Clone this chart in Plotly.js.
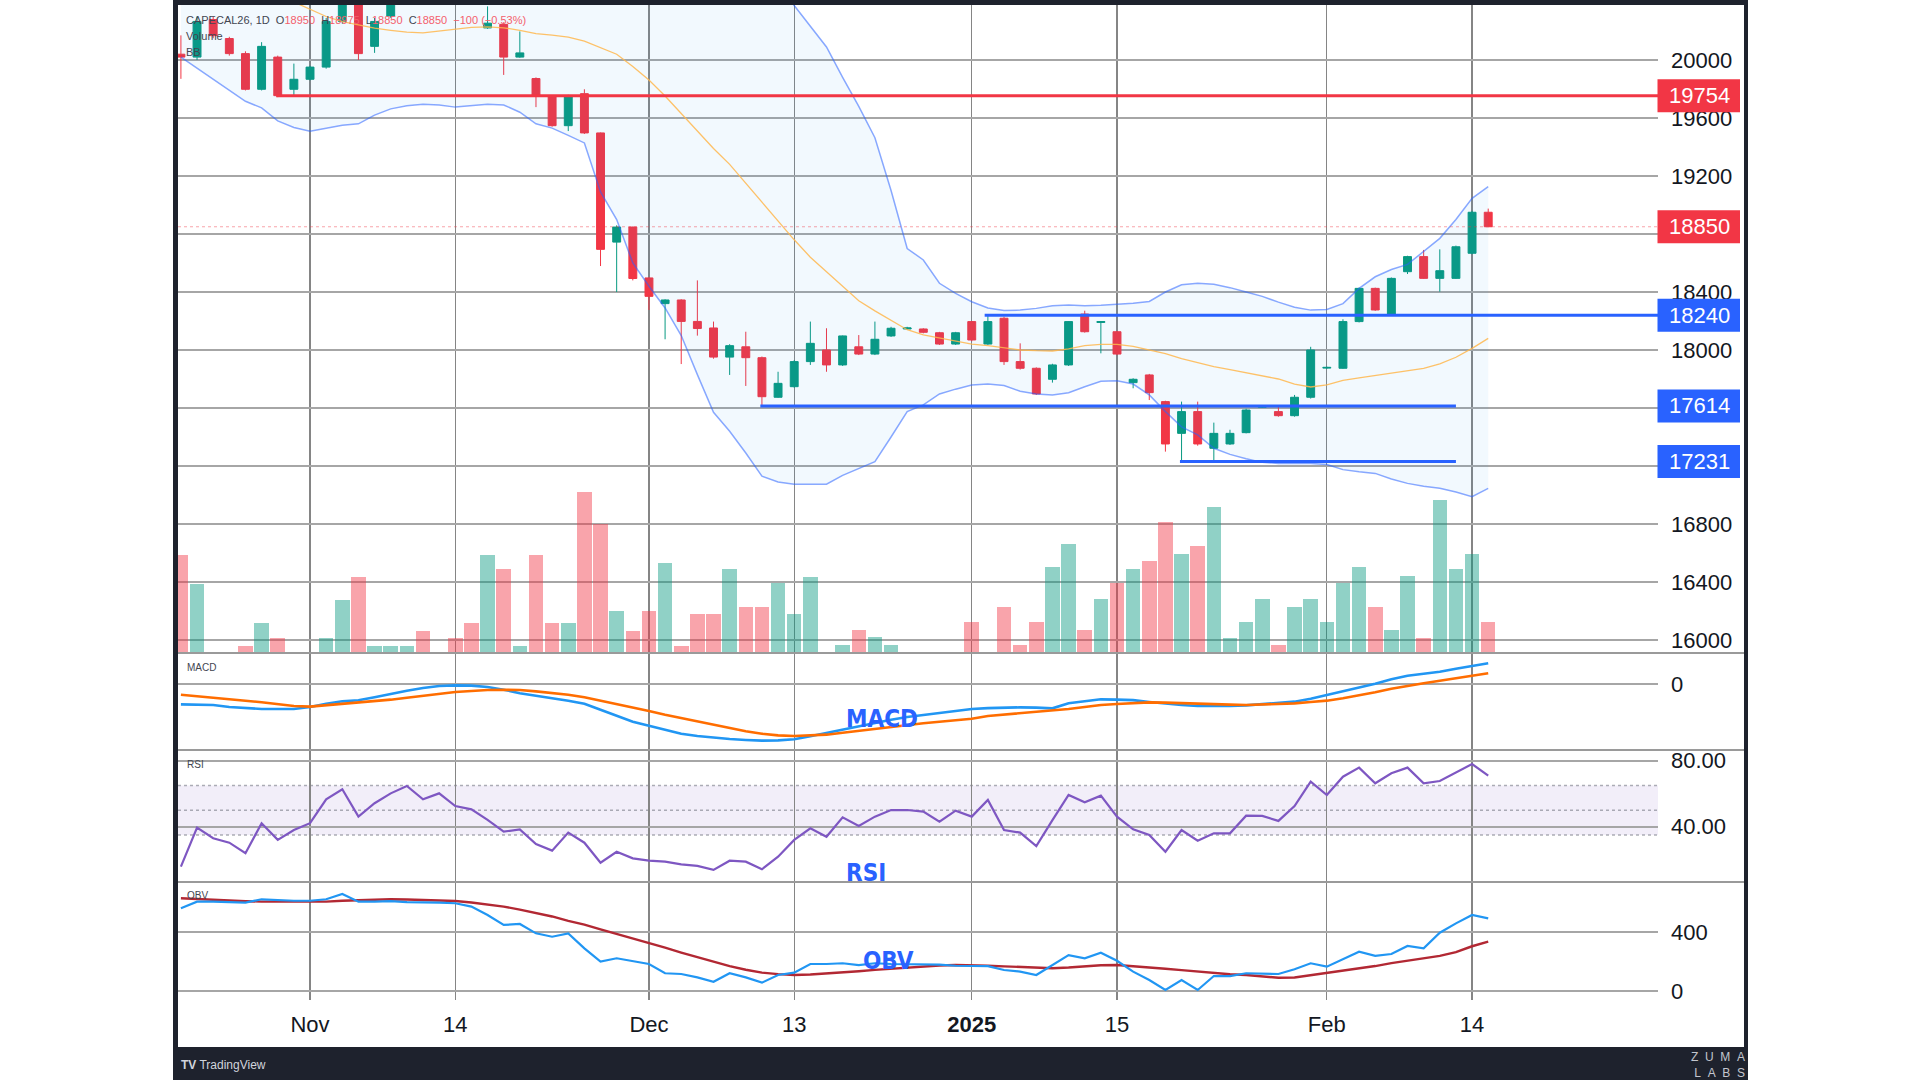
<!DOCTYPE html>
<html><head><meta charset="utf-8">
<script src="https://cdn.plot.ly/plotly-3.0.1.min.js"></script>
<style>html,body{margin:0;padding:0;background:#fff;overflow:hidden}#chart{width:1920px;height:1080px}</style>
</head><body><div id="chart"></div>
<script>
// ---------------- data ----------------
const symbol = 'CAPECAL26';
const interval = '1D';
const tickIdx = [8, 17, 29, 38, 49, 58, 71, 80];
const tickText = ['Nov', '14', 'Dec', '13', '<b>2025</b>', '15', 'Feb', '14'];

const openP = [20040,20020,20279,20148,20044,19798,20020,19798,19867,19951,
 20266,20420,20094,20303,20450,20580,20440,20520,20400,20221,
 20246,20020,19872,19749,19547,19768,19497,18744,18848,18497,
 18320,18345,18197,18152,17951,18022,17947,17674,17747,17920,
 18000,17897,18022,17972,18097,18145,18145,18119,18041,18196,
 18041,18219,17920,17874,17798,17897,18248,18190,18126,17775,
 17828,17644,17425,17575,17322,17352,17430,17605,17575,17547,
 17674,17875,17874,18196,18425,18248,18540,18644,18494,18494,
 18667,18950];
const highP = [20170,20300,20300,20160,20060,20123,20030,19975,19960,20290,
 20480,20470,20290,20450,20620,20600,20560,20540,20420,20370,
 20260,20197,19880,19755,19760,19798,19500,18860,18850,18500,
 18350,18350,18480,18196,18040,18126,17955,17850,17930,18196,
 18150,18100,18103,18196,18160,18160,18150,18125,18125,18200,
 18240,18230,18046,17880,17905,18200,18271,18200,18130,17805,
 17835,17650,17644,17644,17499,17450,17595,17620,17620,17690,
 18022,17885,18212,18430,18430,18500,18650,18690,18694,18720,
 18960,18975];
const lowP = [19870,20000,20150,20030,19790,19790,19744,19750,19860,19940,
 20250,20000,20049,20290,20430,20420,20400,20385,20385,20215,
 19897,20015,19675,19540,19510,19490,18579,18400,18480,18276,
 18074,17903,18099,17940,17828,17752,17614,17670,17740,17897,
 17850,17890,17965,17965,18090,18140,18115,18035,18035,18060,
 18035,17897,17865,17690,17775,17890,18120,17977,17965,17736,
 17655,17299,17231,17340,17241,17345,17425,17600,17540,17540,
 17665,17870,17870,18190,18270,18240,18524,18490,18402,18490,
 18660,18850];
const closeP = [20020,20266,20168,20044,19798,20094,19754,19867,19951,20266,
 20420,20044,20266,20400,20580,20440,20520,20400,20390,20254,
 20020,20049,19749,19547,19749,19497,18694,18848,18493,18370,
 18345,18197,18148,17951,18030,17947,17678,17770,17920,18046,
 17897,18097,17972,18074,18150,18152,18122,18041,18119,18069,
 18196,17920,17874,17697,17897,18196,18126,18196,17972,17798,
 17706,17352,17575,17352,17425,17425,17586,17612,17547,17674,
 18000,17880,18196,18425,18276,18494,18644,18494,18547,18712,
 18950,18850];
const volume = [980,690,0,0,70,300,150,0,0,150,
 530,760,70,70,70,220,0,150,300,980,
 845,70,980,300,300,1610,1295,420,220,420,
 905,70,390,390,840,465,465,700,390,765,
 10,80,235,160,80,10,10,10,10,310,
 10,465,80,310,865,1090,235,540,700,840,
 925,1310,990,1075,1460,150,310,540,80,465,
 540,310,700,860,465,230,770,150,1530,840,
 990,310];
const bbUpper = [20900,20880,20860,20850,20860,20870,20880,20890,20900,20920,
 20950,20970,20980,20990,21000,21000,20990,20960,20930,20900,
 20880,20870,20860,20850,20860,20900,21050,21150,21250,21300,
 21250,21200,21100,21000,20900,20750,20620,20500,20376,20230,
 20090,19880,19680,19464,19100,18700,18621,18460,18391,18333,
 18290,18272,18275,18287,18305,18310,18305,18308,18315,18322,
 18335,18400,18450,18460,18453,18430,18400,18370,18330,18295,
 18275,18280,18320,18425,18505,18555,18590,18680,18770,18900,
 19046,19126];
const bbBasis = [20560,20540,20520,20500,20480,20450,20420,20400,20350,20300,
 20265,20240,20220,20205,20192,20187,20200,20217,20225,20229,
 20222,20205,20182,20172,20158,20130,20085,20040,19955,19862,
 19752,19630,19510,19390,19280,19150,19020,18890,18760,18640,
 18540,18440,18340,18270,18205,18140,18105,18085,18065,18040,
 18030,18015,18000,17995,17993,18008,18030,18039,18039,18025,
 18000,17975,17940,17910,17885,17865,17845,17820,17800,17765,
 17745,17760,17790,17808,17825,17839,17855,17874,17905,17950,
 18011,18080];
const bbLower = [20020,19945,19870,19795,19715,19670,19580,19535,19508,19530,
 19550,19560,19620,19663,19685,19694,19690,19675,19685,19694,
 19690,19640,19560,19530,19480,19428,19090,18900,18600,18440,
 18290,18100,17830,17570,17440,17290,17130,17090,17074,17072,
 17074,17135,17185,17230,17400,17575,17621,17697,17730,17759,
 17766,17755,17715,17697,17690,17705,17747,17784,17788,17765,
 17690,17575,17470,17415,17322,17280,17250,17225,17218,17218,
 17218,17210,17175,17160,17149,17110,17080,17060,17046,17020,
 16988,17046];
const macdLine = [-122,-124,-126,-138,-146,-150,-150,-150,-138,-118,
 -104,-98,-80,-58,-40,-24,-12,-8,-10,-18,
 -34,-55,-72,-86,-100,-118,-155,-192,-226,-250,
 -276,-298,-312,-322,-330,-336,-340,-338,-332,-314,
 -294,-270,-250,-232,-214,-198,-186,-176,-166,-150,
 -145,-142,-140,-142,-146,-115,-102,-92,-94,-97,
 -108,-118,-126,-132,-133,-132,-128,-120,-112,-106,
 -88,-66,-44,-20,2,28,50,62,74,92,
 108,124];
const macdSignal = [-64,-72,-80,-90,-100,-110,-122,-132,-136,-128,
 -118,-110,-104,-94,-82,-70,-58,-48,-42,-36,
 -35,-36,-44,-54,-64,-80,-100,-122,-142,-162,
 -185,-205,-224,-244,-264,-284,-298,-308,-312,-310,
 -304,-292,-280,-270,-260,-246,-236,-226,-218,-208,
 -192,-184,-176,-168,-160,-150,-138,-126,-120,-114,
 -110,-112,-116,-120,-122,-124,-126,-123,-120,-116,
 -108,-100,-86,-70,-50,-28,-10,4,20,36,
 50,64];
const rsi = [15.8,39.4,33.0,30.3,23.9,42.1,32.0,38.0,42.1,56.6,
 62.7,46.1,54.2,60.2,64.7,56.6,60.2,52.5,50.5,44.1,
 37.0,38.4,29.5,25.5,36.4,30.3,18.2,24.8,20.8,19.4,
 18.8,17.2,16.2,13.8,19.4,18.8,14.2,21.8,32.0,39.0,
 33.9,45.7,40.4,46.1,50.1,50.1,49.1,43.0,49.7,46.1,
 56.2,38.0,36.4,28.3,44.0,59.2,54.8,58.8,46.1,38.4,
 35.0,24.8,38.0,31.5,36.0,36.0,46.7,46.5,43.5,52.5,
 67.3,59.2,70.3,75.8,66.3,72.4,75.8,66.3,67.7,72.7,
 78.0,70.9];
const rsiBands = [35, 50, 65];
const obv = [564,609,609,606,602,625,618,615,615,625,
 661,609,609,612,606,606,602,598,575,518,
 450,457,393,370,393,291,200,223,206,184,
 121,116,93,63,121,93,57,109,125,184,
 184,189,177,189,184,184,184,180,172,170,
 170,143,132,109,180,245,223,261,206,132,
 75,7,75,7,102,102,121,121,116,148,
 189,166,216,268,239,252,307,291,397,461,
 518,495];
const obvMA = [632,626,620,616,612,609,609,609,609,609,
 615,620,622,625,624,620,617,613,603,590,
 575,555,532,508,478,452,420,390,358,325,
 295,262,230,200,170,145,125,115,109,112,
 118,126,135,144,152,160,168,174,177,176,
 172,168,162,158,155,160,168,175,177,170,
 160,152,142,132,122,114,109,100,90,92,
 108,121,138,155,170,190,205,222,239,265,
 305,336];
// drawn horizontal levels: price, first bar, last bar (null = to the price scale)
const levelPrice = [19754, 18240, 17614, 17231];
const levelFrom  = [5.9, 49.8, 35.9, 61.9];
const levelTo    = [null, null, 79, 79];
const priceTicks = [16000,16400,16800,17200,17600,18000,18400,18800,19200,19600,20000];

// ---------------- layout helpers (pixel -> paper) ----------------
const PL = 178, PR = 1658, PT = 5, PB = 1000;
const px = x => (x - PL) / (PR - PL);
const py = y => (PB - y) / (PB - PT);
const UP = '#089981', DN = '#f23645', BLUE = '#2962ff';
const FONT = 'Liberation Sans, Arial, sans-serif';
const COND = 'DejaVu Sans Condensed, DejaVu Sans, sans-serif';
const N = closeP.length;
const idx = closeP.map((_, i) => i);
const priceRange = [15910.3, 20379.3];
const pricePerPx = (priceRange[1] - priceRange[0]) / 648;
const last = closeP[N - 1];

const volColors = closeP.map((c, i) => c >= openP[i] ? 'rgba(8,153,129,0.45)' : 'rgba(242,54,69,0.45)');

const traces = [
  {type:'bar', x: idx, y: volume, yaxis:'y', xaxis:'x', width:0.9,
   marker:{color: volColors, line:{width:0}}, hoverinfo:'skip'},
  {type:'scatter', mode:'lines', x: idx, y: bbUpper, yaxis:'y2', xaxis:'x',
   line:{color:'rgba(41,98,255,0.55)', width:1.5}, hoverinfo:'skip'},
  {type:'scatter', mode:'lines', x: idx, y: bbLower, yaxis:'y2', xaxis:'x',
   line:{color:'rgba(41,98,255,0.55)', width:1.5}, fill:'tonexty',
   fillcolor:'rgba(33,150,243,0.06)', hoverinfo:'skip'},
  {type:'scatter', mode:'lines', x: idx, y: bbBasis, yaxis:'y2', xaxis:'x',
   line:{color:'rgba(255,183,77,0.85)', width:1.3}, hoverinfo:'skip'},
  {type:'candlestick', x: idx, open: openP, high: highP, low: lowP, close: closeP,
   yaxis:'y2', xaxis:'x', whiskerwidth:0,
   increasing:{line:{color:UP, width:1}, fillcolor:UP},
   decreasing:{line:{color:DN, width:1}, fillcolor:DN}, hoverinfo:'skip'},
  {type:'scatter', mode:'lines', x: idx, y: macdLine, yaxis:'y3', xaxis:'x',
   line:{color:'#2196f3', width:2.6}, hoverinfo:'skip'},
  {type:'scatter', mode:'lines', x: idx, y: macdSignal, yaxis:'y3', xaxis:'x',
   line:{color:'#ff6d00', width:2.6}, hoverinfo:'skip'},
  {type:'scatter', mode:'lines', x: idx, y: rsi, yaxis:'y4', xaxis:'x',
   line:{color:'#7e57c2', width:2.2}, hoverinfo:'skip'},
  {type:'scatter', mode:'lines', x: idx, y: obvMA, yaxis:'y5', xaxis:'x',
   line:{color:'#b22833', width:2.4}, hoverinfo:'skip'},
  {type:'scatter', mode:'lines', x: idx, y: obv, yaxis:'y5', xaxis:'x',
   line:{color:'#2196f3', width:2.2}, hoverinfo:'skip'}
];

const gridY = '#a6a6a6', gridX = '#858585';
const tickFont = {family: FONT, size: 22, color: '#131722'};
const yCommon = {side:'right', anchor:'x', showline:false, zeroline:false, ticks:'',
  gridcolor: gridY, gridwidth: 1.8, tickfont: tickFont, ticklabelstandoff: 12, fixedrange:true};

// price scale labels hidden where a price tag sits on top of them
const tagPrices = [levelPrice[0], last, levelPrice[1], levelPrice[2], levelPrice[3]];
const priceTickText = priceTicks.map(v => tagPrices.some(p => Math.abs(p - v) < 60) ? '' : String(v));

const shapes = [];
const annotations = [];
const FRAME = '#1e222d';
// dark frame
shapes.push({type:'rect', xref:'paper', yref:'paper', x0:px(173), x1:px(178), y0:py(1080), y1:py(0), fillcolor:FRAME, line:{width:0}, layer:'above'});
shapes.push({type:'rect', xref:'paper', yref:'paper', x0:px(173), x1:px(1748), y0:py(5), y1:py(0), fillcolor:FRAME, line:{width:0}, layer:'above'});
shapes.push({type:'rect', xref:'paper', yref:'paper', x0:px(1744), x1:px(1748), y0:py(1080), y1:py(0), fillcolor:FRAME, line:{width:0}, layer:'above'});
shapes.push({type:'rect', xref:'paper', yref:'paper', x0:px(173), x1:px(1748), y0:py(1080), y1:py(1047), fillcolor:FRAME, line:{width:0}, layer:'above'});
// pane separators
[653, 750, 882].forEach(y => shapes.push({type:'line', xref:'paper', yref:'paper', x0:px(178), x1:px(1744), y0:py(y), y1:py(y), line:{color:'#9a9a9a', width:2}, layer:'above'}));
// RSI band
shapes.push({type:'rect', xref:'paper', yref:'y4', x0:0, x1:1, y0:rsiBands[0], y1:rsiBands[2], fillcolor:'rgba(126,87,194,0.10)', line:{width:0}, layer:'below'});
rsiBands.forEach(v => shapes.push({type:'line', xref:'paper', yref:'y4', x0:0, x1:1, y0:v, y1:v, line:{color:'rgba(120,123,134,0.6)', width:1.4, dash:'dot'}, layer:'below'}));
// last price dotted line
shapes.push({type:'line', xref:'paper', yref:'y2', x0:0, x1:1, y0:last, y1:last, line:{color:'rgba(242,54,69,0.45)', width:1, dash:'dot'}, layer:'above'});
// drawn levels
levelPrice.forEach((p, k) => {
  const col = k === 0 ? '#f23645' : BLUE;
  shapes.push({type:'line', xref:'x', yref:'y2', x0:levelFrom[k], x1: levelTo[k] === null ? 91.52 : levelTo[k], y0:p, y1:p, line:{color:col, width:3}, layer:'above'});
});
// price tags on the scale
const half = 16.5 * pricePerPx;
const tagColors = ['#f23645', '#f23645', BLUE, BLUE, BLUE];
tagPrices.forEach((p, k) => {
  shapes.push({type:'rect', xref:'paper', yref:'y2', x0:px(1657.5), x1:px(1740), y0:p - half, y1:p + half, fillcolor:tagColors[k], line:{width:0}, layer:'above'});
  annotations.push({xref:'paper', yref:'y2', x:px(1732), y:p, xanchor:'right', yanchor:'middle', showarrow:false,
    text:String(p), font:{family:FONT, size:22, color:'#ffffff'}});
});
// legend header
const chg = closeP[N-1] - closeP[N-2];
const pct = Math.abs(chg / closeP[N-2] * 100).toFixed(2);
const red = s => '<span style="color:#f4606c">' + s + '</span>';
const sp = '\u00a0\u00a0';
const minus = v => (v < 0 ? '\u2212' : '+');
annotations.push({xref:'paper', yref:'paper', x:px(184), y:py(20), xanchor:'left', yanchor:'middle', showarrow:false,
  font:{family:FONT, size:11, color:'#434651'},
  text: symbol + ', ' + interval + sp + 'O' + red(openP[N-1]) + sp + 'H' + red(highP[N-1]) + sp + 'L' + red(lowP[N-1]) + sp + 'C' + red(closeP[N-1]) + sp + red(minus(chg) + Math.abs(chg) + ' (' + minus(chg) + pct + '%)')});
annotations.push({xref:'paper', yref:'paper', x:px(184), y:py(36), xanchor:'left', yanchor:'middle', showarrow:false, font:{family:FONT, size:11, color:'#434651'}, text:'Volume'});
annotations.push({xref:'paper', yref:'paper', x:px(184), y:py(52), xanchor:'left', yanchor:'middle', showarrow:false, font:{family:FONT, size:11, color:'#434651'}, text:'BB'});
// pane titles
[['MACD', 667], ['RSI', 764], ['OBV', 895]].forEach(([t, y]) => annotations.push({xref:'paper', yref:'paper', x:px(185), y:py(y), xanchor:'left', yanchor:'middle', showarrow:false, font:{family:FONT, size:10, color:'#434651'}, text:t}));
// big blue labels
[['MACD', 882, 719], ['RSI', 866, 873], ['OBV', 888, 961]].forEach(([t, x, y]) => annotations.push({xref:'paper', yref:'paper', x:px(x), y:py(y), xanchor:'center', yanchor:'middle', showarrow:false, font:{family:COND, size:24, weight:'bold', color:BLUE}, text:t}));
// footer
annotations.push({xref:'paper', yref:'paper', x:px(179), y:py(1065), xanchor:'left', yanchor:'middle', showarrow:false, font:{family:FONT, size:12, color:'#d1d4dc'}, text:'<b>TV</b> TradingView'});
annotations.push({xref:'paper', yref:'paper', x:px(1747), y:py(1065), xanchor:'right', yanchor:'middle', showarrow:false, align:'right', font:{family:FONT, size:12, color:'#c3c6ce'}, text:'Z\u00a0\u00a0U\u00a0\u00a0M\u00a0\u00a0A<br>L\u00a0\u00a0A\u00a0\u00a0B\u00a0\u00a0S'});

const layout = {
  width:1920, height:1080, margin:{l:PL, r:1920-PR, t:PT, b:1080-PB, pad:0},
  paper_bgcolor:'#ffffff', plot_bgcolor:'#ffffff', showlegend:false, hovermode:false, bargap:0,
  xaxis:{domain:[0,1], anchor:'y5', range:[-0.18, 91.52], tickmode:'array', tickvals:tickIdx, ticktext:tickText,
    showgrid:true, gridcolor:gridX, gridwidth:1.3, zeroline:false, showline:false, ticks:'',
    tickfont:tickFont, ticklabelstandoff:9, rangeslider:{visible:false}, fixedrange:true},
  yaxis: {domain:[py(653), 1], range:[0, 6480], visible:false, showgrid:false, zeroline:false, fixedrange:true},
  yaxis2: Object.assign({}, yCommon, {overlaying:'y', range:priceRange, tickmode:'array', tickvals:priceTicks, ticktext:priceTickText}),
  yaxis3: Object.assign({}, yCommon, {domain:[py(750), py(653)], range:[-396, 186], tickmode:'array', tickvals:[0], ticktext:['0']}),
  yaxis4: Object.assign({}, yCommon, {domain:[py(882), py(750)], range:[6.48, 86.48], tickmode:'array', tickvals:[40, 80], ticktext:['40.00', '80.00']}),
  yaxis5: Object.assign({}, yCommon, {domain:[0, py(882)], range:[-61.3, 742.8], tickmode:'array', tickvals:[0, 400], ticktext:['0', '400']}),
  shapes: shapes, annotations: annotations
};
Plotly.newPlot('chart', traces, layout, {staticPlot:true, displayModeBar:false});
</script></body></html>
